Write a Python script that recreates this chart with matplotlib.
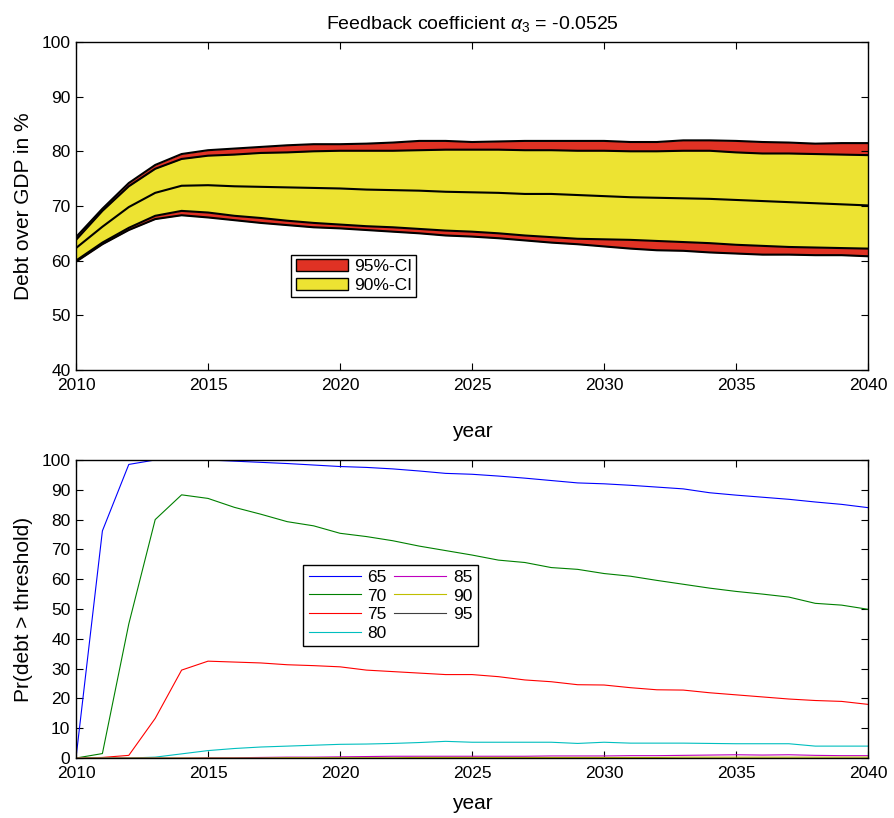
import numpy as np
import matplotlib.pyplot as plt

years = np.arange(2010, 2041)

# top panel: percentiles of debt/GDP (%)
upper95 = [64.3, 69.5, 74.2, 77.5, 79.5, 80.2, 80.5, 80.8, 81.1, 81.3, 81.3,
           81.4, 81.6, 81.9, 81.9, 81.7, 81.8, 81.9, 81.9, 81.9, 81.9, 81.7,
           81.7, 82.0, 82.0, 81.9, 81.7, 81.6, 81.4, 81.5, 81.5]
upper90 = [63.8, 69.1, 73.6, 76.8, 78.6, 79.2, 79.4, 79.7, 79.8, 80.0, 80.1,
           80.1, 80.1, 80.2, 80.3, 80.3, 80.3, 80.2, 80.2, 80.1, 80.1, 80.0,
           80.0, 80.1, 80.1, 79.8, 79.6, 79.6, 79.5, 79.4, 79.3]
median = [62.3, 66.2, 69.8, 72.4, 73.7, 73.8, 73.6, 73.5, 73.4, 73.3, 73.2,
          73.0, 72.9, 72.8, 72.6, 72.5, 72.4, 72.2, 72.2, 72.0, 71.8, 71.6,
          71.5, 71.4, 71.3, 71.1, 70.9, 70.7, 70.5, 70.3, 70.1]
lower90 = [60.0, 63.3, 66.0, 68.2, 69.1, 68.8, 68.2, 67.8, 67.3, 66.9, 66.6,
           66.3, 66.1, 65.8, 65.5, 65.3, 65.0, 64.6, 64.3, 64.0, 63.9, 63.8,
           63.6, 63.4, 63.2, 62.9, 62.7, 62.5, 62.4, 62.3, 62.2]
lower95 = [59.8, 63.0, 65.6, 67.6, 68.3, 67.9, 67.4, 66.9, 66.5, 66.1, 65.9,
           65.6, 65.3, 65.0, 64.6, 64.4, 64.1, 63.7, 63.3, 63.0, 62.6, 62.2,
           61.9, 61.8, 61.5, 61.3, 61.1, 61.1, 61.0, 61.0, 60.8]

# bottom panel: probability (%) that debt exceeds threshold
thresholds = ['65', '70', '75', '80', '85', '90', '95']
p65 = [0, 76.2, 98.5, 100, 100, 100, 99.6, 99.2, 98.8, 98.3, 97.8,
       97.5, 97.0, 96.3, 95.5, 95.2, 94.6, 93.9, 93.1, 92.3, 92.0, 91.5,
       90.9, 90.3, 89.0, 88.2, 87.5, 86.8, 85.9, 85.1, 84.0]
p70 = [0, 1.5, 45.0, 80.0, 88.3, 87.1, 84.1, 81.8, 79.3, 77.9, 75.4,
       74.3, 72.9, 71.1, 69.6, 68.1, 66.4, 65.6, 63.9, 63.3, 61.9, 61.0,
       59.6, 58.3, 57.0, 55.9, 55.0, 54.0, 51.9, 51.3, 49.9]
p75 = [0, 0.2, 0.9, 13.3, 29.5, 32.5, 32.2, 31.9, 31.3, 31.0, 30.6,
       29.5, 29.0, 28.5, 28.0, 28.0, 27.3, 26.2, 25.6, 24.6, 24.5, 23.6,
       22.9, 22.8, 21.9, 21.2, 20.5, 19.8, 19.3, 19.0, 18.0]
p80 = [0, 0, 0, 0.3, 1.4, 2.5, 3.2, 3.7, 4.0, 4.3, 4.6,
       4.7, 4.9, 5.2, 5.6, 5.3, 5.3, 5.3, 5.3, 4.9, 5.3, 5.0,
       5.0, 5.0, 4.9, 4.8, 4.8, 4.8, 4.0, 4.0, 4.0]
p85 = [0, 0, 0, 0, 0, 0.1, 0.1, 0.2, 0.3, 0.3, 0.4,
       0.5, 0.6, 0.6, 0.6, 0.6, 0.6, 0.6, 0.7, 0.7, 0.7, 0.8,
       0.8, 0.9, 1.0, 1.1, 1.0, 1.1, 0.9, 0.8, 0.8]
p90 = [0, 0, 0, 0, 0, 0, 0, 0, 0.1, 0.1, 0.1,
       0.1, 0.1, 0.2, 0.2, 0.2, 0.2, 0.2, 0.2, 0.2, 0.2, 0.2,
       0.2, 0.3, 0.3, 0.3, 0.3, 0.3, 0.3, 0.3, 0.3]
p95 = [0] * 31
probs = [p65, p70, p75, p80, p85, p90, p95]
colors = [(0, 0, 1), (0, 0.5, 0), (1, 0, 0), (0, 0.75, 0.75),
          (0.75, 0, 0.75), (0.75, 0.75, 0), (0.25, 0.25, 0.25)]

plt.rcParams['font.family'] = 'Liberation Sans'
plt.rcParams['mathtext.fontset'] = 'custom'
plt.rcParams['mathtext.rm'] = 'Liberation Sans'
plt.rcParams['mathtext.it'] = 'Liberation Sans:italic'
fig = plt.figure(figsize=(8.94, 8.18), dpi=100)

def style(ax):
  ax.tick_params(direction='in', top=True, right=True, length=5,
                 labelsize=12.5, pad=4)
  ax.tick_params(axis='x', pad=6)
  for s in ax.spines.values():
    s.set_linewidth(1.0)
  ax.set_xlim(2010, 2040)
  ax.set_xticks(range(2010, 2041, 5))

# top panel
ax1 = fig.add_axes([0.085, 0.5477, 0.886, 0.401])
red = '#e03224'
yel = '#ede332'
ax1.fill_between(years, lower95, upper95, color=red, lw=0)
ax1.fill_between(years, lower90, upper90, color=yel, lw=0)
for s in [upper95, upper90, median, lower90, lower95]:
  ax1.plot(years, s, color='k', lw=1.5)
style(ax1)
ax1.set_ylim(40, 100)
ax1.set_yticks(range(40, 101, 10))
ax1.set_ylabel('Debt over GDP in %', fontsize=15, labelpad=6)
ax1.set_xlabel('year', fontsize=15, labelpad=21)
ax1.set_title(r'Feedback coefficient $\alpha_3$ = -0.0525', fontsize=14, pad=9)
h95 = plt.Rectangle((0, 0), 1, 1, fc=red, ec='k', lw=1)
h90 = plt.Rectangle((0, 0), 1, 1, fc=yel, ec='k', lw=1)
leg = ax1.legend([h95, h90], ['95%-CI', '90%-CI'], loc='lower left',
                 bbox_to_anchor=(0.272, 0.222), fontsize=12.5, fancybox=False,
                 edgecolor='k', framealpha=1, borderpad=0.25, labelspacing=0.2,
                 handlelength=3.0, handletextpad=0.35, borderaxespad=0)
leg.get_frame().set_linewidth(1.0)

# bottom panel
ax2 = fig.add_axes([0.085, 0.0733, 0.886, 0.3644])
for p, c, t in zip(probs, colors, thresholds):
  ax2.plot(years, p, color=c, lw=0.8, label=t)
style(ax2)
ax2.set_ylim(0, 100)
ax2.set_yticks(range(0, 101, 10))
ax2.set_ylabel('Pr(debt > threshold)', fontsize=15, labelpad=6)
ax2.set_xlabel('year', fontsize=15, labelpad=9)
leg2 = ax2.legend(loc='lower left', bbox_to_anchor=(0.287, 0.376), ncol=2,
                  fontsize=12.5, fancybox=False, edgecolor='k', framealpha=1,
                  borderpad=0.3, labelspacing=0.2, handlelength=3.0,
                  handletextpad=0.4, columnspacing=0.4, borderaxespad=0)
leg2.get_frame().set_linewidth(1.0)

plt.savefig('out.png', dpi=100)
